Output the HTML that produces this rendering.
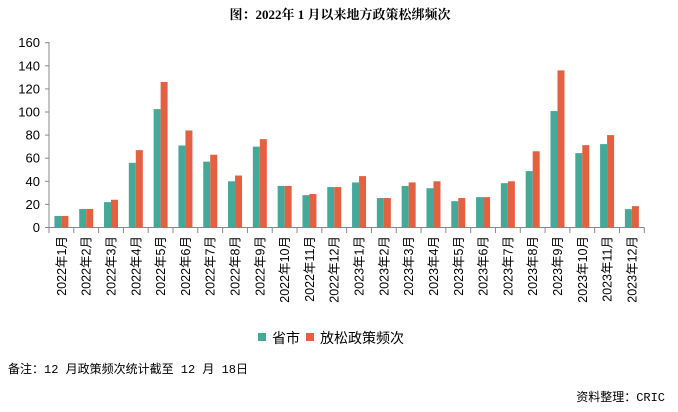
<!DOCTYPE html>
<html><head><meta charset="utf-8"><style>
body{margin:0;background:#fff;}
svg text{font-family:"Liberation Sans","Noto Sans CJK SC",sans-serif;}
</style></head><body>
<svg width="678" height="407" viewBox="0 0 678 407" xmlns="http://www.w3.org/2000/svg">
<text x="340" y="19" text-anchor="middle" font-size="13" font-weight="bold" style="font-family:'Liberation Serif','Noto Serif CJK SC',serif">图：2022年 1 月以来地方政策松绑频次</text>
<g id="c"></g>
<text x="8" y="373" font-size="12" style="font-family:'Liberation Mono','Noto Sans CJK SC',monospace">备注：12 月政策频次统计截至 12 月 18日</text>
<text x="665" y="401" text-anchor="end" font-size="12" style="font-family:'Liberation Mono','Noto Sans CJK SC',monospace">资料整理：CRIC</text>
<rect x="258" y="333" width="8" height="8" fill="#45A99A"/>
<text x="272" y="343" font-size="14">省市</text>
<rect x="306" y="333" width="8" height="8" fill="#E36040"/>
<text x="320" y="343" font-size="14">放松政策频次</text>
</svg>
<script>
var g=[10,16,22,56,102.5,71,57,40,70,36,28,35,39,25.5,36,34,22.8,26.3,38.4,48.8,100.8,64.4,72.2,15.9];
var r=[10,16,24,67,126,84,63,45,76.5,36,29,35,44.5,25.5,39,40,25.5,26.3,40,66,136,71.3,80,18.5];
var s='',y0=227.5,k=184.8/160,x0=49,w=(644.3-49)/24;
s+='<line x1="49" y1="42" x2="49" y2="228" stroke="#888"/>';
s+='<line x1="49" y1="227.5" x2="644.5" y2="227.5" stroke="#888"/>';
for(var v=0;v<=160;v+=20){var yy=y0-v*k;s+='<line x1="45" y1="'+yy+'" x2="49" y2="'+yy+'" stroke="#888"/><text x="40" y="'+(yy+4.5)+'" text-anchor="end" font-size="13">'+v+'</text>';}
for(var i=0;i<24;i++){var c=x0+w*i+w/2;
s+='<rect x="'+(c-7)+'" y="'+(y0-g[i]*k)+'" width="7" height="'+g[i]*k+'" fill="#45A99A"/>';
s+='<rect x="'+c+'" y="'+(y0-r[i]*k)+'" width="7" height="'+r[i]*k+'" fill="#E36040"/>';
var tx=x0+w*(i+1);s+='<line x1="'+tx+'" y1="227.5" x2="'+tx+'" y2="233" stroke="#888"/>';
if(i==0)s+='<line x1="49" y1="227.5" x2="49" y2="233" stroke="#888"/>';
var lab=(2022+Math.floor(i/12))+'年'+(i%12+1)+'月';
s+='<text transform="translate('+(c+4.5)+',236) rotate(-90)" text-anchor="end" font-size="12.5">'+lab+'</text>';}
document.getElementById('c').innerHTML=s;
</script>
</body></html>
